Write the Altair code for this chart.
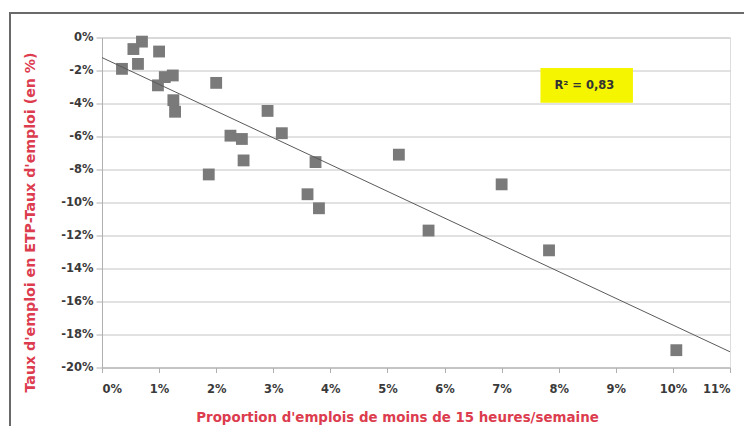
import altair as alt
import pandas as pd

# Share of jobs < 15 h/week (%) and FTE employment rate gap (%)
x_vals = [0.35, 0.55, 0.70, 0.63, 1.00, 0.98, 1.10, 1.24, 1.25, 1.28, 2.00, 1.87,
          2.25, 2.45, 2.48, 2.90, 3.15, 3.74, 3.60, 3.80, 5.20, 7.00, 5.72, 7.83, 10.06]
y_vals = [-1.90, -0.70, -0.25, -1.60, -0.85, -2.90, -2.40, -2.30, -3.80, -4.50, -2.75, -8.30,
          -5.95, -6.15, -7.45, -4.45, -5.80, -7.55, -9.50, -10.35, -7.10, -8.90, -11.70, -12.90, -18.95]

x_ticks = list(range(0, 12))
y_ticks = list(range(0, -21, -2))

r2_label = ["R² = 0,83"]
r2_pos_x = [8.45]
r2_pos_y = [-2.95]
r2_box_x = [7.68, 9.30]
r2_box_y = [-1.85, -3.95]

df = pd.DataFrame({"x": x_vals, "y": y_vals})
ann = pd.DataFrame({"x": r2_pos_x, "y": r2_pos_y, "label": r2_label})
box = pd.DataFrame({"x": [r2_box_x[0]], "x2": [r2_box_x[1]], "y": [r2_box_y[0]], "y2": [r2_box_y[1]]})

RED = "#dc3c4e"
FONT = "DejaVu Sans"
xscale = alt.Scale(domain=[0, 11], nice=False, zero=False)
yscale = alt.Scale(domain=[-20, 0], nice=False, zero=False)

common = dict(labelFont=FONT, labelFontSize=11.5, labelFontWeight="bold", labelColor="#3a3a3a",
              titleFont=FONT, titleFontWeight="bold", titleColor=RED,
              labelOverlap=False, domainColor="#b0b0b0", tickColor="#b0b0b0")

xaxis = alt.Axis(values=x_ticks, labelExpr="datum.value + '%'",
                 title="Proportion d'emplois de moins de 15 heures/semaine",
                 grid=False, tickSize=5, labelPadding=11, titleFontSize=13.4,
                 titleX=295, titleY=50, titleBaseline="middle", titleAlign="center", **common)
yaxis = alt.Axis(values=y_ticks, labelExpr="datum.value + '%'",
                 title="Taux d'emploi en ETP-Taux d'emploi (en %)",
                 grid=True, gridColor="#c4c4c4", tickSize=6, labelPadding=3, titleFontSize=14.2,
                 titleX=-72, titleY=184.5, titleAngle=270, titleBaseline="middle",
                 titleAlign="center", **common)

frame = alt.Chart(pd.DataFrame({"a": [0]})).mark_rect(
    fill=None, stroke="#6a6a6a", strokeWidth=2
).encode(x=alt.value(-92), x2=alt.value(680), y=alt.value(-24.5), y2=alt.value(470))

points = alt.Chart(df).mark_square(size=140, color="#7a7a7a", opacity=1).encode(
    x=alt.X("x:Q", scale=xscale, axis=xaxis),
    y=alt.Y("y:Q", scale=yscale, axis=yaxis),
)

trend = alt.Chart(df).transform_regression("x", "y", extent=[0, 11]).mark_line(
    color="#5a5a5a", strokeWidth=1
).encode(x=alt.X("x:Q", scale=xscale, axis=xaxis), y=alt.Y("y:Q", scale=yscale, axis=yaxis))

rbox = alt.Chart(box).mark_rect(color="#f5f500", opacity=1).encode(
    x=alt.X("x:Q", scale=xscale, axis=xaxis), x2="x2:Q",
    y=alt.Y("y:Q", scale=yscale, axis=yaxis), y2="y2:Q")

rtext = alt.Chart(ann).mark_text(font=FONT, fontSize=11.5, fontWeight="bold",
                                 color="#333333").encode(
    x=alt.X("x:Q", scale=xscale, axis=xaxis), y=alt.Y("y:Q", scale=yscale, axis=yaxis),
    text="label:N")

chart = alt.layer(points, trend, rbox, rtext, frame).properties(
    width=628, height=330,
    autosize=alt.AutoSizeParams(type="none"),
    padding={"left": 94, "top": 29.5, "right": 14, "bottom": 58.5},
).configure_view(stroke="#c4c4c4", strokeWidth=1).configure(background="white")

chart.save("out.html", embed_options={"renderer": "svg", "actions": False})
